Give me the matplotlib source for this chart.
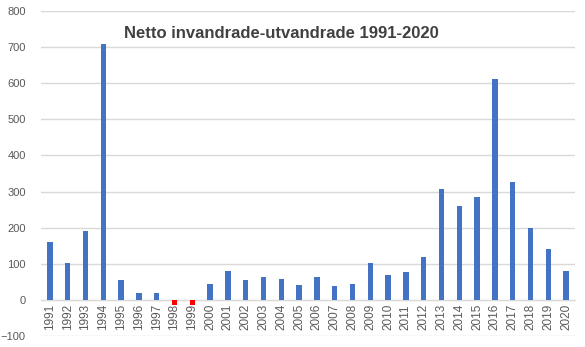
import numpy as np
import matplotlib
matplotlib.use("Agg")
import matplotlib.pyplot as plt

years = [str(y) for y in range(1991, 2021)]
netto = [160, 102, 192, 710, 55, 19, 19, -15, -15, 44,
         80, 55, 64, 58, 42, 64, 39, 44, 102, 69,
         78, 119, 307, 260, 285, 612, 327, 199, 141, 80]

blue = "#4472C4"
red = "#FF0000"
grey_txt = "#595959"
grid_col = "#D9D9D9"

plt.rcParams['font.family'] = ['Liberation Sans', 'DejaVu Sans']

fig = plt.figure(figsize=(5.85, 3.47), dpi=100)
ax = fig.add_axes([41/585, 1-336/347, (575-41)/585, (336-11)/347])

x = np.arange(len(years))
colors = [red if v < 0 else blue for v in netto]
ax.bar(x, netto, width=0.3, color=colors, zorder=3)

ax.set_xlim(-0.5, len(years) - 0.5)
ax.set_ylim(-100, 800)
ax.set_yticks(range(-100, 801, 100))
ax.yaxis.grid(True, color=grid_col, linewidth=1, zorder=0)

for s in ["top", "right", "left"]:
    ax.spines[s].set_visible(False)
ax.spines["bottom"].set_position(("data", 0))
ax.spines["bottom"].set_color(grid_col)
ax.spines["bottom"].set_zorder(1)

ax.set_xticks(x)
ax.set_xticklabels(years, rotation=90, fontsize=8.5, color=grey_txt)
ax.tick_params(axis="x", length=0, pad=3)
ax.tick_params(axis="y", length=0, pad=11, labelsize=8, labelcolor=grey_txt)

fig.text(281/585, 1-33/347, "Netto invandrade-utvandrade 1991-2020",
         ha="center", va="center", fontsize=12, fontweight="bold", color="#404040")

plt.savefig("out.png", dpi=100)
